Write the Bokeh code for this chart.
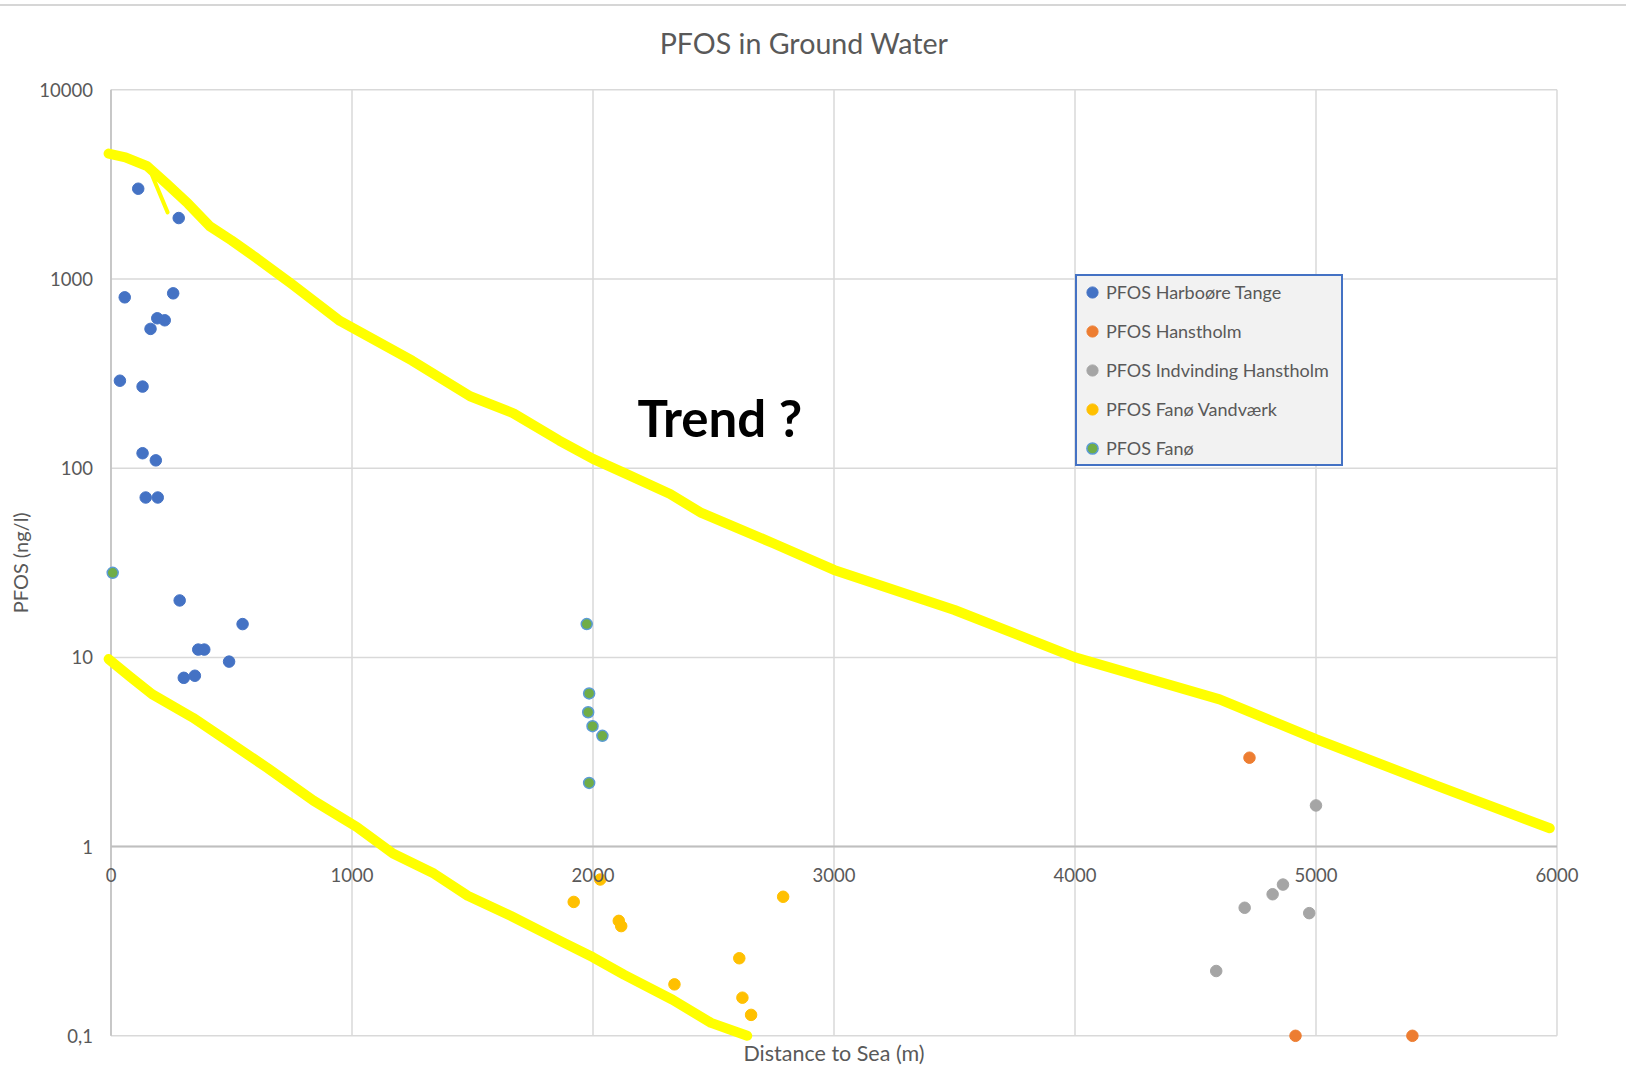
import math

from bokeh.plotting import figure
from bokeh.models import Range1d, Legend, LegendItem, Label, Div
from bokeh.layouts import column
from bokeh.embed import file_html
from bokeh.resources import INLINE

FONT = "Lato"
TXT = "#595959"
GRID = "#d9d9d9"
AXIS = "#bfbfbf"

# Axis ticks and labels
x_ticks = [0, 1000, 2000, 3000, 4000, 5000, 6000]
x_tick_labels = ["0", "1000", "2000", "3000", "4000", "5000", "6000"]
y_ticks = [0.1, 1, 10, 100, 1000, 10000]
y_tick_labels = ["0,1", "1", "10", "100", "1000", "10000"]

# Distance to sea (m) and PFOS (ng/l) per series
harboore_dist = [113, 281, 57, 258, 192, 223, 164, 37, 131, 131, 186, 144, 194,
                 285, 546, 362, 387, 490, 302, 348]
harboore_pfos = [3000, 2100, 800, 840, 620, 605, 545, 290, 270, 120, 110, 70, 70,
                 20, 15, 11, 11, 9.5, 7.8, 8.0]

hanstholm_dist = [4724, 4915, 5400]
hanstholm_pfos = [2.95, 0.1, 0.1]

indvinding_dist = [5000, 4586, 4704, 4820, 4863, 4972]
indvinding_pfos = [1.65, 0.22, 0.475, 0.56, 0.63, 0.445]

fano_vv_dist = [1920, 2030, 2107, 2117, 2338, 2607, 2620, 2656, 2789]
fano_vv_pfos = [0.51, 0.67, 0.405, 0.38, 0.187, 0.257, 0.159, 0.129, 0.543]

fano_dist = [7, 1974, 1984, 1980, 1998, 2039, 1984]
fano_pfos = [28, 15, 6.45, 5.13, 4.33, 3.85, 2.17]

# Hand-drawn trend envelope
upper_trend_x = [-10, 60, 150, 230, 320, 410, 500, 600, 750, 950, 1250, 1490, 1670,
                 1860, 2000, 2140, 2320, 2450, 2750, 3000, 3500, 4000, 4600, 5000,
                 5500, 5970]
upper_trend_y = [4600, 4400, 3950, 3200, 2500, 1900, 1600, 1300, 940, 600, 370, 240,
                 195, 140, 112, 93, 73, 58, 40, 29, 17.8, 10, 6.0, 3.7, 2.1, 1.25]
upper_tail_x = [170, 235]
upper_tail_y = [3550, 2250]
lower_trend_x = [-10, 80, 170, 340, 500, 650, 840, 1020, 1170, 1340, 1480, 1660, 1880,
                 2000, 2130, 2330, 2490, 2640]
lower_trend_y = [9.8, 7.9, 6.4, 4.8, 3.5, 2.6, 1.75, 1.27, 0.92, 0.72, 0.55, 0.43, 0.31,
                 0.26, 0.21, 0.155, 0.117, 0.1]

# Chart area spans 0-6000 m and 0.1-10000 ng/l. The frame fills the whole canvas,
# and axis lines, gridlines and all texts are placed relative to the chart area.
X_MIN, X_MAX = 0, 6000
Y_MIN, Y_MAX = 0.1, 10000
X_MID = (X_MIN + X_MAX) / 2
Y_MID = math.sqrt(Y_MIN * Y_MAX)

p = figure(width=1626, height=1085, x_range=Range1d(-458.5, 6288.4),
           y_range=Range1d(0.05077, 27561), y_axis_type="log",
           output_backend="svg", toolbar_location=None,
           min_border_left=0, min_border_right=0,
           min_border_top=0, min_border_bottom=0)
p.outline_line_color = None
p.background_fill_color = "white"
p.border_fill_color = "white"
p.grid.visible = False
p.xaxis.visible = False
p.yaxis.visible = False

# Gridlines limited to the chart area
p.segment(x0=x_ticks, y0=[Y_MIN] * len(x_ticks), x1=x_ticks, y1=[Y_MAX] * len(x_ticks),
          line_color=GRID, line_width=1.5)
p.segment(x0=[X_MIN] * len(y_ticks), y0=y_ticks, x1=[X_MAX] * len(y_ticks), y1=y_ticks,
          line_color=GRID, line_width=1.5)
# Axis lines: vertical at 0 m, horizontal crossing at PFOS = 1
p.segment(x0=[X_MIN], y0=[Y_MIN], x1=[X_MIN], y1=[Y_MAX], line_color=AXIS, line_width=1.5)
p.segment(x0=[X_MIN], y0=[1], x1=[X_MAX], y1=[1], line_color=AXIS, line_width=2)

tick_style = dict(text_font=FONT, text_font_size="18.5px", text_color=TXT)

# PFOS labels left of the vertical axis
for yv, txt in zip(y_ticks, y_tick_labels):
    p.add_layout(Label(x=X_MIN, y=yv, text=txt, text_align="right", text_baseline="middle",
                       x_offset=-18, **tick_style))

# Distance labels below the PFOS = 1 axis line
for xv, txt in zip(x_ticks, x_tick_labels):
    p.add_layout(Label(x=xv, y=1, text=txt, text_align="center", text_baseline="middle",
                       y_offset=-28, **tick_style))

# Titles
p.add_layout(Label(x=X_MID, y=Y_MAX, text="PFOS in Ground Water", text_align="center",
                   text_baseline="middle", x_offset=-30, y_offset=47, text_font=FONT,
                   text_font_size="28.6px", text_color=TXT))
p.add_layout(Label(x=X_MID, y=Y_MIN, text="Distance to Sea (m)", text_align="center",
                   text_baseline="middle", y_offset=-17, text_font=FONT,
                   text_font_size="21.5px", text_color=TXT))
p.add_layout(Label(x=X_MIN, y=Y_MID, text="PFOS (ng/l)", text_align="center",
                   text_baseline="middle", angle=math.pi / 2, x_offset=-91,
                   text_font=FONT, text_font_size="20px", text_color=TXT))

# Trend envelope
YELLOW = "#ffff00"
p.line(upper_trend_x, upper_trend_y, line_color=YELLOW, line_width=10,
       line_cap="round", line_join="round")
p.line(upper_tail_x, upper_tail_y, line_color=YELLOW, line_width=4, line_cap="round")
p.line(lower_trend_x, lower_trend_y, line_color=YELLOW, line_width=10,
       line_cap="round", line_join="round")

# Measurement series
r_harb = p.scatter(harboore_dist, harboore_pfos, size=11.5, fill_color="#4472c4",
                   line_color="#4472c4", line_width=1)
r_hans = p.scatter(hanstholm_dist, hanstholm_pfos, size=11.5, fill_color="#ed7d31",
                   line_color="#ed7d31", line_width=1)
r_indv = p.scatter(indvinding_dist, indvinding_pfos, size=11.5, fill_color="#a5a5a5",
                   line_color="#a5a5a5", line_width=1)
r_fvv = p.scatter(fano_vv_dist, fano_vv_pfos, size=11.5, fill_color="#ffc000",
                  line_color="#ffc000", line_width=1)
r_fano = p.scatter(fano_dist, fano_pfos, size=11, fill_color="#70ad47",
                   line_color="#5b9bd5", line_width=1.5)

p.add_layout(Label(x=2185, y=186, text="Trend ?", text_font=FONT,
                   text_font_size="51px", text_font_style="bold",
                   text_color="black", text_baseline="middle"))

legend = Legend(items=[
    LegendItem(label="PFOS Harboøre Tange", renderers=[r_harb]),
    LegendItem(label="PFOS Hanstholm", renderers=[r_hans]),
    LegendItem(label="PFOS Indvinding Hanstholm", renderers=[r_indv]),
    LegendItem(label="PFOS Fanø Vandværk", renderers=[r_fvv]),
    LegendItem(label="PFOS Fanø", renderers=[r_fano]),
], location=(1075, 625), orientation="vertical",
    background_fill_color="#f2f2f2", background_fill_alpha=1.0,
    border_line_color="#4472c4", border_line_width=2, border_line_alpha=1.0,
    label_text_font=FONT, label_text_font_size="18px", label_text_color=TXT,
    glyph_width=28, glyph_height=30, label_height=30, label_width=234,
    label_standoff=-8, spacing=9, padding=1, margin=0)
p.add_layout(legend)

top_rule = Div(text="", width=1626, height=6, margin=0,
               styles={"border-bottom": "2px solid #d6d6d6", "box-sizing": "border-box"})

layout = column(top_rule, p, spacing=0)
open("out.html", "w").write(file_html(layout, INLINE))
